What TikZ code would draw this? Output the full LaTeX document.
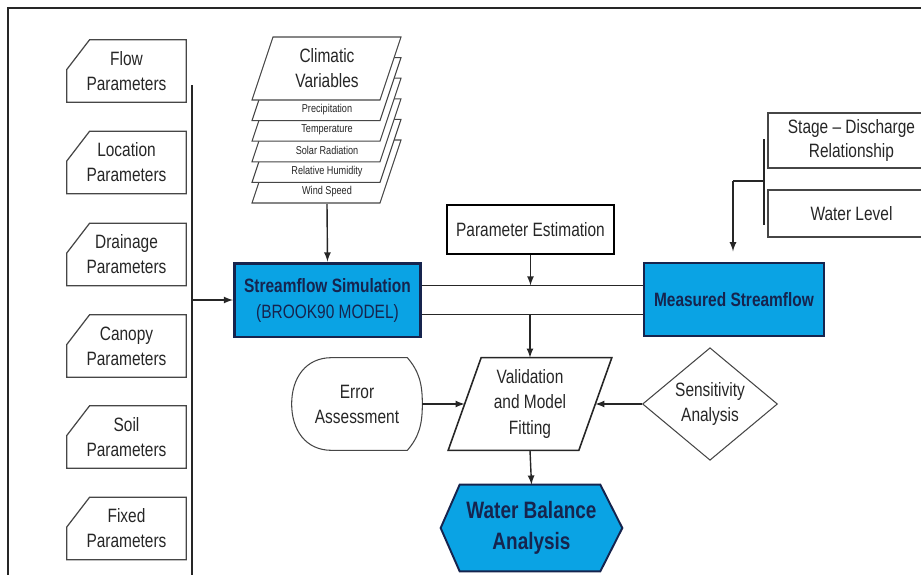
\documentclass[tikz,border=0pt]{standalone}
\usepackage{fontspec}
\setmainfont[FakeStretch=0.8]{Liberation Sans}
\usetikzlibrary{calc,shapes.geometric}
\definecolor{flowblue}{RGB}{10,163,228}
\definecolor{navy}{RGB}{22,36,78}
\definecolor{edgegray}{RGB}{70,70,70}
\tikzstyle{txt}=[font=\fontsize{11}{14.2}\selectfont,align=center,text=black!85]
\tikzstyle{small}=[font=\fontsize{6.5}{7}\selectfont,align=center,text=black!85]
\tikzstyle{shell}=[inner sep=0pt,txt]
\tikzstyle{bluebox}=[draw=navy,fill=flowblue,align=center,text=navy,inner sep=0pt,font=\fontsize{11}{14.8}\selectfont]
\tikzstyle{wire}=[draw=black!85,line width=0.8pt]
\tikzstyle{arrow}=[wire,-latex]
\newcommand{\drawcard}[3]{
\node[shell,minimum width=2.38cm,minimum height=1.24cm] (#1) at (126.5,#2) {#3};
\draw[edgegray,line width=0.7pt] ($(#1.north west)+(0,30)$) -- ($(#1.north west)+(23,0)$) -- (#1.north east) -- (#1.south east) -- (#1.south west) -- cycle;
}
\newcommand{\drawlayer}[1]{
\pgfmathsetmacro{\ytop}{#1}
\draw[fill=white,draw=edgegray,line width=0.6pt] (273,\ytop) -- (401,\ytop) -- (380,\ytop+63) -- (252,\ytop+63) -- cycle;
}

\begin{document}
\begin{tikzpicture}[x=0.02cm,y=-0.02cm]
\useasboundingbox (0,0) rectangle (921,575);
\draw[line width=1.1pt,black!85] (8,580) -- (8,8) -- (930,8);

\drawcard{flow}{71}{Flow\\Parameters}
\drawcard{loc}{162.5}{Location\\Parameters}
\drawcard{drain}{254.5}{Drainage\\Parameters}
\drawcard{canopy}{346}{Canopy\\Parameters}
\drawcard{soil}{437}{Soil\\Parameters}
\drawcard{fixed}{528.5}{Fixed\\Parameters}

\coordinate (bustop) at (192,85);
\coordinate (busbot) at (192,580);
\draw[wire,line width=1.1pt] (bustop) -- (busbot);

\foreach \k/\lab in {5/Wind Speed,4/Relative Humidity,3/Solar Radiation,2/Temperature,1/Precipitation} {
  \drawlayer{37+20.6*\k}
  \node[small] (lay\k) at (327,37+20.6*\k+52) {\lab};
}
\drawlayer{37}
\node[txt] (climate) at (327,68) {Climatic\\Variables};
\coordinate (stack) at (327,204);

\node[bluebox,line width=1.7pt,minimum width=3.72cm,minimum height=1.48cm] (sim) at (327.5,300) {\textbf{Streamflow Simulation}\\(BROOK90 MODEL)};
\node[txt,draw=black,line width=1.5pt,minimum width=3.34cm,minimum height=0.98cm,inner sep=0pt] (param) at (530.5,229.5) {Parameter Estimation};
\node[bluebox,line width=0.8pt,minimum width=3.6cm,minimum height=1.46cm] (meas) at (734,299.5) {\textbf{Measured Streamflow}};

\node[txt,draw=edgegray,line width=0.6pt,minimum width=3.34cm,minimum height=1.1cm,inner sep=0pt] (stage) at (851.5,140.5) {Stage -- Discharge\\Relationship};
\node[txt,draw=edgegray,line width=0.6pt,minimum width=3.34cm,minimum height=0.94cm,inner sep=0pt] (level) at (851.5,213.5) {Water Level};

\node[shell,minimum width=2.6cm,minimum height=1.84cm,font=\fontsize{11}{14.5}\selectfont] (valid) at (530,404) {Validation\\and Model\\Fitting};
\draw[black!85,line width=0.9pt] ([xshift=0.33cm]valid.north west) -- ([xshift=0.33cm]valid.north east) -- ([xshift=-0.33cm]valid.south east) -- ([xshift=-0.33cm]valid.south west) -- cycle;

\node[shell,minimum width=2.6cm,minimum height=1.84cm] (err) at (357,404) {Error\\Assessment};
\draw[edgegray,line width=0.6pt] ($(err.north west)+(40,0)$) -- ($(err.north east)+(-15,0)$) .. controls ($(err.north east)+(-3,14)$) and ($(err.east)+(0,-20)$) .. (err.east) .. controls ($(err.east)+(0,20)$) and ($(err.south east)+(-3,-14)$) .. ($(err.south east)+(-15,0)$) -- ($(err.south west)+(40,0)$) .. controls ($(err.south west)+(14,0)$) and ($(err.west)+(0,26)$) .. (err.west) .. controls ($(err.west)+(0,-26)$) and ($(err.north west)+(14,0)$) .. ($(err.north west)+(40,0)$);

\node[txt,draw=edgegray,line width=0.6pt,shape=diamond,minimum width=2.7cm,minimum height=2.18cm,inner sep=0pt] (sens) at (710,404) {Sensitivity\\Analysis};

\node[inner sep=0pt,minimum width=3.62cm,minimum height=1.72cm] (wbal) at (531.5,528) {};
\draw[navy,fill=flowblue,line width=1.1pt] (wbal.west) -- ($(wbal.north west)+(19,0)$) -- ($(wbal.north east)+(-22,0)$) -- (wbal.east) -- ($(wbal.south east)+(-22,0)$) -- ($(wbal.south west)+(19,0)$) -- cycle;
\node[inner sep=0pt,align=center,text=navy,font=\fontsize{13.5}{18}\selectfont\bfseries] (wbaltext) at (wbal) {Water Balance\\Analysis};

\coordinate (upper) at ([yshift=0.29cm]sim.east);
\coordinate (lower) at ([yshift=-0.29cm]sim.east);
\draw[wire] (upper) -- (upper -| meas.west);
\draw[wire] (lower) -- (lower -| meas.west);

\draw[arrow] (stack) -- (sim.north);
\draw[arrow] (bustop |- sim.west) -- (sim.west);
\draw[arrow] (param.south) -- (param.south |- upper);
\draw[arrow] (valid.north |- lower) -- (valid.north);
\draw[arrow] (err.east) -- (valid.west);
\draw[arrow] (sens.west) -- (valid.east);
\draw[arrow] (valid.south) -- (wbal.north);

\coordinate (fork) at (764,181);
\draw[wire] (764,139) -- (764,225);
\draw[wire] (fork) -- (733,181);
\draw[arrow,shorten >=0.22cm] (733,181) -- (meas.north -| 733,0);
\end{tikzpicture}
\end{document}
